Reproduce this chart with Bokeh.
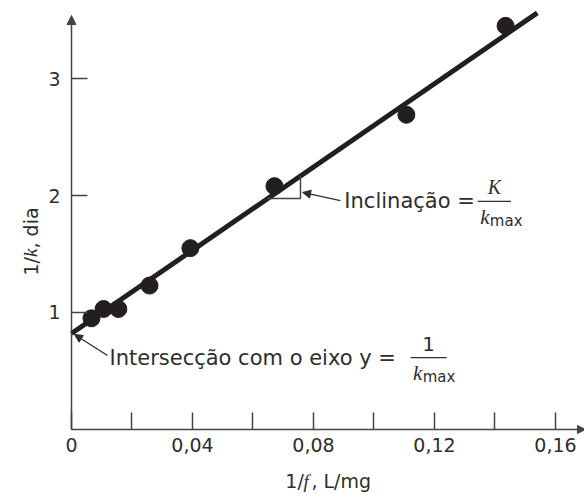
import math

from bokeh.plotting import figure
from bokeh.models import Range1d, FixedTicker, Label, Arrow, NormalHead
from bokeh.embed import file_html
from bokeh.resources import INLINE

# Reciprocal substrate concentration (1/f, L/mg) and reciprocal rate (1/k, dia)
inv_f = [0.0066, 0.0106, 0.0155, 0.0258, 0.0393, 0.0671, 0.1107, 0.1435]
inv_k = [0.95, 1.03, 1.03, 1.23, 1.55, 2.08, 2.69, 3.45]

# Straight-line fit: 1/k = intercept + slope * (1/f)
intercept = 0.82
slope = 17.8
fit_x = [0.0, 0.154]

x_ticks = [0.0, 0.04, 0.08, 0.12, 0.16]
x_tick_labels = ["0", "0,04", "0,08", "0,12", "0,16"]
x_minor_ticks = [0.02, 0.06, 0.10, 0.14]
y_ticks = [1, 2, 3]
y_tick_labels = ["1", "2", "3"]

X_END = 0.1699
Y_END = 3.538

INK = "#231f20"
TEXT = "#2e2e2e"
AXIS = "#444444"
SANS = "DejaVu Sans"
SERIF = "Liberation Serif"

# The frame fills the canvas; the axes are pinned to x=0 / y=0 inside it
p = figure(
    width=584, height=494,
    x_range=Range1d(-0.02347, 0.16959), y_range=Range1d(-0.5556, 3.6667),
    min_border=0, min_border_left=0, min_border_right=0,
    min_border_top=0, min_border_bottom=0,
    output_backend="svg", toolbar_location=None,
)
p.outline_line_color = None
p.xgrid.visible = False
p.ygrid.visible = False
p.background_fill_color = "white"

xa = p.xaxis[0]
xa.ticker = FixedTicker(ticks=x_ticks, minor_ticks=x_minor_ticks)
xa.major_label_overrides = dict(zip(x_ticks, x_tick_labels))
ya = p.yaxis[0]
ya.ticker = FixedTicker(ticks=y_ticks, minor_ticks=[])
ya.major_label_overrides = dict(zip(y_ticks, y_tick_labels))
for ax in (xa, ya):
    ax.fixed_location = 0
    ax.axis_line_color = None
    ax.major_tick_line_color = AXIS
    ax.major_tick_line_width = 1.5
    ax.minor_tick_line_color = AXIS
    ax.minor_tick_line_width = 1.5
    ax.major_tick_out = 0
    ax.minor_tick_out = 0
    ax.major_label_text_font = SANS
    ax.major_label_text_font_size = "19px"
    ax.major_label_text_color = TEXT
xa.major_tick_in = 17
xa.minor_tick_in = 17
xa.major_label_standoff = 9
ya.major_tick_in = 16
ya.major_label_standoff = 11

# Axis lines with arrow heads
p.add_layout(Arrow(end=NormalHead(size=9, fill_color=AXIS, line_color=AXIS),
                   x_start=0, y_start=0, x_end=0, y_end=Y_END,
                   line_color=AXIS, line_width=1.5))
p.add_layout(Arrow(end=NormalHead(size=8, fill_color=AXIS, line_color=AXIS),
                   x_start=0, y_start=0, x_end=X_END, y_end=0,
                   line_color=AXIS, line_width=1.5))

# Fitted line and observations
fit_y = [intercept + slope * x for x in fit_x]
p.line(fit_x, fit_y, line_color=INK, line_width=5)
p.scatter(inv_f, inv_k, size=17, fill_color=INK, line_color=INK)

# Slope triangle under the line
tri_x = 0.0757
tri_y = 1.974
x_on_line = (tri_y - intercept) / slope
y_on_line = intercept + slope * tri_x
p.line([x_on_line, tri_x, tri_x], [tri_y, tri_y, y_on_line],
       line_color=AXIS, line_width=1.5)


def label(x, y, text, size="21px", font=SANS, style="normal",
          align="left", baseline="middle", angle=0.0):
    p.add_layout(Label(x=x, y=y, text=text, text_font=font,
                       text_font_size=size, text_font_style=style,
                       text_color=TEXT, text_align=align,
                       text_baseline=baseline, angle=angle))


def fraction(x0, x1, y, numer, numer_style, numer_font):
    xc = (x0 + x1) / 2
    p.segment([x0], [y], [x1], [y], line_color=TEXT, line_width=1.3)
    label(xc, y + 0.12, numer, size="20px", font=numer_font,
          style=numer_style, align="center")
    label(x0 + 0.0008, y - 0.135, "k", size="21px", font=SERIF,
          style="italic")
    label(x0 + 0.0040, y - 0.165, "max", size="15px")


# Slope annotation
label(0.0902, 1.949, "Inclinação =")
fraction(0.1343, 0.1453, 1.949, "K", "italic", SERIF)
p.add_layout(Arrow(end=NormalHead(size=8, fill_color=TEXT, line_color=TEXT),
                   x_start=0.0889, y_start=1.957, x_end=0.0764, y_end=2.026,
                   line_color=TEXT, line_width=1.3))

# Intercept annotation
label(0.01256, 0.615, "Intersecção com o eixo y =")
fraction(0.1121, 0.1240, 0.615, "1", "normal", SANS)
p.add_layout(Arrow(end=NormalHead(size=8, fill_color=TEXT, line_color=TEXT),
                   x_start=0.0119, y_start=0.632, x_end=0.0010, y_end=0.812,
                   line_color=TEXT, line_width=1.3))

# Axis titles with italic variable names
label(0.0707, -0.444, "1/", size="19px")
label(0.0767, -0.444, "f", size="19px", font=SERIF, style="italic")
label(0.0793, -0.444, ", L/mg", size="19px")

ang = math.pi / 2
label(-0.01355, 1.316, "1/", size="19px", angle=ang)
label(-0.01355, 1.474, "k", size="19px", font=SERIF, style="italic", angle=ang)
label(-0.01355, 1.547, ", dia", size="19px", angle=ang)

open("out.html", "w").write(file_html(p, INLINE))
